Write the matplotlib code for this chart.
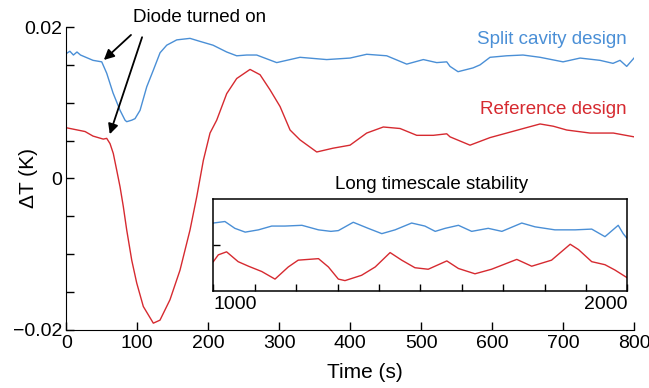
import numpy as np
import matplotlib
matplotlib.use("Agg")
import matplotlib.pyplot as plt

plt.rcParams['font.family'] = ['Liberation Sans', 'DejaVu Sans']

# main trace, time in s, dT in mK
blue_t = [0, 5, 10, 15, 20, 37.6, 49.9, 56.9, 65.8, 75.7, 82.7, 85.1, 92.2, 96.8, 103.9,
          113.3, 122.6, 132.1, 141.5, 155.6, 174.3, 188.4, 206.7, 226.0, 240.1, 254.2,
          268.3, 296.5, 329.3, 366.9, 399.8, 423.3, 451.5, 479.7, 503.1, 522.0, 536.1,
          540.7, 552.0, 573.1, 583.0, 597.1, 620.6, 643.6, 667.6, 700.0, 724.0, 752.1,
          770.4, 780.3, 789.7, 800]
blue_v = [16.5, 16.8, 16.3, 16.7, 16.3, 15.6, 15.4, 13.9, 11.3, 9.0, 7.7, 7.5, 7.7, 7.9, 9.0,
          12.1, 14.3, 16.6, 17.6, 18.3, 18.5, 18.1, 17.6, 16.7, 16.2, 16.3,
          16.3, 15.3, 16.0, 15.7, 15.9, 16.4, 16.2, 15.1, 15.7, 15.3, 15.4,
          14.8, 14.1, 14.6, 15.0, 16.0, 16.2, 16.3, 16.0, 15.4, 15.9, 15.6,
          15.2, 15.6, 14.8, 15.9]

red_t = [0, 26.4, 37.6, 52.1, 56.9, 61.6, 66.2, 71.0, 75.7, 80.3, 85.1, 92.2, 99.2, 108.5,
         122.6, 132.0, 146.1, 160.2, 174.3, 183.8, 193.1, 202.5, 211.9, 226.0, 240.1,
         258.9, 273.0, 287.1, 301.2, 315.3, 329.3, 352.9, 375.8, 399.8, 423.3, 446.7,
         470.3, 493.8, 517.2, 536.1, 540.7, 568.9, 597.1, 620.6, 644.0, 667.6, 686.3,
         705.2, 738.0, 770.9, 800]
red_v = [6.7, 6.2, 5.6, 5.2, 5.3, 4.6, 3.3, 1.1, -1.1, -3.7, -6.8, -10.8, -13.8, -16.9,
         -19.1, -18.7, -16.0, -12.1, -6.8, -2.4, 2.4, 6.0, 7.7, 11.2, 13.2,
         14.4, 13.7, 11.7, 9.5, 6.4, 5.1, 3.5, 4.0, 4.4, 6.0, 6.8,
         6.6, 5.7, 5.7, 5.9, 5.5, 4.4, 5.4, 6.0, 6.6, 7.2, 6.9,
         6.4, 6.0, 6.0, 5.5]

# inset trace (long timescale), relative mK
inset_blue_t = [1000, 1028, 1052, 1077, 1109, 1141, 1173, 1214, 1254, 1284, 1302, 1338, 1374,
                1407, 1439, 1479, 1511, 1536, 1560, 1592, 1624, 1664, 1697, 1745, 1777,
                1825, 1874, 1914, 1946, 1978, 1990, 1999]
inset_blue_v = [2.9, 3.1, 2.2, 1.7, 2.0, 2.5, 2.5, 2.6, 2.0, 1.8, 1.9, 3.0, 2.2,
                1.5, 2.0, 2.9, 2.5, 1.8, 2.2, 2.6, 1.8, 2.2, 1.8, 2.9, 2.4,
                2.0, 2.0, 2.1, 1.1, 2.6, 1.5, 0.9]
inset_red_t = [1000, 1012, 1032, 1060, 1085, 1117, 1149, 1181, 1205, 1254, 1278, 1302, 1318,
               1358, 1391, 1427, 1455, 1487, 1519, 1564, 1592, 1632, 1672, 1733, 1769,
               1817, 1862, 1882, 1914, 1946, 1970, 1999]
inset_red_v = [-2.2, -1.3, -0.9, -2.2, -2.8, -3.5, -4.5, -2.9, -2.0, -1.8, -2.9, -4.5, -4.7,
               -4.0, -2.9, -1.0, -2.0, -3.0, -3.2, -2.1, -3.1, -3.8, -3.2, -1.9, -2.8,
               -2.0, 0.1, -0.6, -2.2, -2.6, -3.3, -4.3]

blue = '#4a8fd6'
red = '#d62a30'

fig = plt.figure(figsize=(6.49, 3.88), dpi=100)
ax = fig.add_axes([0.1022, 0.1495, 0.8747, 0.7809])

ax.plot(blue_t, np.array(blue_v) / 1000, color=blue, lw=1.0)
ax.plot(red_t, np.array(red_v) / 1000, color=red, lw=1.0)

ax.set_xlim(0, 800)
ax.set_ylim(-0.02, 0.02)
ax.spines['top'].set_visible(False)
ax.spines['right'].set_visible(False)
ax.set_xticks(np.arange(0, 801, 100))
ax.set_yticks([-0.02, 0, 0.02])
ax.set_yticklabels(['\u22120.02', '0', '0.02'])
ax.set_yticks(np.arange(-0.02, 0.0201, 0.005), minor=True)
ax.tick_params(axis='both', which='both', direction='in', labelsize=14, width=1)
ax.tick_params(axis='both', which='major', length=6)
ax.tick_params(axis='y', which='minor', length=6)
ax.tick_params(axis='y', pad=3)
ax.set_xlabel('Time (s)', fontsize=15)
ax.set_ylabel('\u0394T (K)', fontsize=15)
ax.xaxis.set_label_coords(0.526, -0.11)
ax.yaxis.set_label_coords(-0.05, 0.5)

ax.text(790, 0.0184, 'Split cavity design', color=blue, fontsize=13.5, ha='right', va='center')
ax.text(790, 0.0091, 'Reference design', color=red, fontsize=13.5, ha='right', va='center')

ax.text(188, 0.0213, 'Diode turned on', fontsize=13.5, ha='center', va='center')
ax.annotate('', xy=(50, 0.0154), xytext=(94, 0.0192),
            arrowprops=dict(arrowstyle='-|>', color='black', lw=1.3, mutation_scale=15))
ax.annotate('', xy=(60, 0.0055), xytext=(108, 0.0190),
            arrowprops=dict(arrowstyle='-|>', color='black', lw=1.3, mutation_scale=15))

# inset
ins = fig.add_axes([0.3287, 0.2508, 0.6379, 0.2355])
ins.plot(inset_blue_t, inset_blue_v, color=blue, lw=1.0)
ins.plot(inset_red_t, inset_red_v, color=red, lw=1.0)
ins.set_xlim(1000, 2000)
ins.set_ylim(-6.03, 6.03)
ins.set_xticks(np.arange(1000, 2001, 100))
ins.set_xticklabels(['1000'] + [''] * 9 + ['2000'])
labs = ins.get_xticklabels()
labs[0].set_ha('left')
labs[-1].set_ha('right')
ins.set_yticks([0])
ins.set_yticklabels([])
ins.tick_params(axis='both', direction='in', length=5, labelsize=14, width=1)
for s in ins.spines.values():
    s.set_linewidth(1.1)
ins.text(0.294, 1.16, 'Long timescale stability', transform=ins.transAxes,
         fontsize=13.5, ha='left', va='center')

fig.savefig('out.png', dpi=100)
